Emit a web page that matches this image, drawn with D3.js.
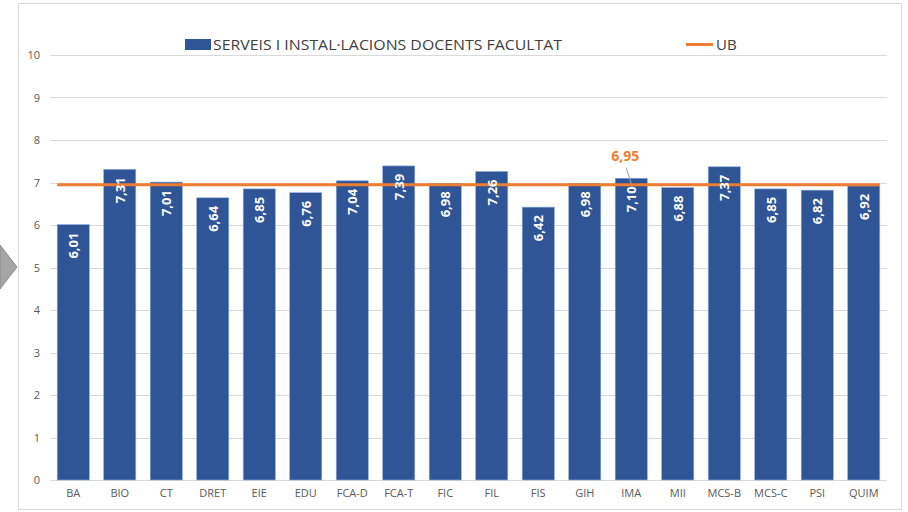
<!DOCTYPE html>
<html>
<head>
<meta charset="utf-8">
<script src="https://cdn.jsdelivr.net/npm/d3@7"></script>
<style>
  body { margin: 0; background: #fff; }
  text { font-family: "Open Sans", "Liberation Sans", sans-serif; }
</style>
</head>
<body>
<svg id="chart" width="908" height="512"></svg>
<script>
const categories = ["BA", "BIO", "CT", "DRET", "EIE", "EDU", "FCA-D", "FCA-T", "FIC", "FIL",
  "FIS", "GIH", "IMA", "MII", "MCS-B", "MCS-C", "PSI", "QUIM"]
const facultat = [6.01, 7.31, 7.01, 6.64, 6.85, 6.76, 7.04, 7.39, 6.98, 7.26,
  6.42, 6.98, 7.10, 6.88, 7.37, 6.85, 6.82, 6.92]
const ubValue = 6.95
const yTicks = [0, 1, 2, 3, 4, 5, 6, 7, 8, 9, 10]
const seriesNames = ["SERVEIS I INSTAL·LACIONS DOCENTS FACULTAT", "UB"]

const fmt = (v) => d3.format(".2f")(v).replace(".", ",")

const svg = d3.select("#chart")
const plot = { left: 50, right: 887, top: 55, bottom: 480 }

// outer frame
svg.append("rect")
  .attr("x", 18.5).attr("y", 3.5)
  .attr("width", 883).attr("height", 506)
  .attr("fill", "#fff").attr("stroke", "#D9D9D9")

// grey arrow on the left edge
svg.append("polygon")
  .attr("points", "0,245 17,267 0,289")
  .attr("fill", "#A5A5A5").attr("stroke", "#8C8C8C")

const x = d3.scaleBand().domain(categories).range([plot.left, plot.right]).paddingInner(0.31).paddingOuter(0.155)
const y = d3.scaleLinear().domain([0, 10]).range([plot.bottom, plot.top])

// gridlines
svg.append("g")
  .selectAll("line")
  .data(yTicks)
  .join("line")
  .attr("x1", plot.left).attr("x2", plot.right)
  .attr("y1", (d) => Math.round(y(d)) + 0.5).attr("y2", (d) => Math.round(y(d)) + 0.5)
  .attr("stroke", "#D9D9D9").attr("stroke-width", 1)

// y axis labels
const yAxis = svg.append("g")
  .attr("transform", `translate(${plot.left - 10},0)`)
  .call(d3.axisLeft(y).tickValues(yTicks).tickSize(0).tickPadding(0))
yAxis.select(".domain").remove()
yAxis.selectAll("text")
  .attr("fill", "#595959").style("font-size", "11px")

// x axis labels
const xAxis = svg.append("g")
  .attr("transform", `translate(0,${plot.bottom})`)
  .call(d3.axisBottom(x).tickSize(0).tickPadding(9))
xAxis.select(".domain").remove()
xAxis.selectAll("text")
  .attr("fill", "#595959").style("font-size", "11px")

// bars
svg.append("g")
  .selectAll("rect")
  .data(facultat)
  .join("rect")
  .attr("x", (d, i) => x(categories[i]))
  .attr("y", (d) => y(d))
  .attr("width", x.bandwidth())
  .attr("height", (d) => y(0) - y(d))
  .attr("fill", "#2F5597")
  .attr("stroke", "#8FAADC").attr("stroke-width", 0.6)

// UB line (under the bar labels)
const xFirst = x(categories[0])
const xLast = x(categories[categories.length - 1]) + x.bandwidth()
svg.append("line")
  .attr("x1", xFirst).attr("x2", xLast)
  .attr("y1", y(ubValue)).attr("y2", y(ubValue))
  .attr("stroke", "#ED7D31").attr("stroke-width", 3)

// bar value labels (rotated, inside end)
svg.append("g")
  .selectAll("text")
  .data(facultat)
  .join("text")
  .attr("transform", (d, i) => `translate(${x(categories[i]) + x.bandwidth() / 2 + 5},${y(d) + 8}) rotate(-90)`)
  .attr("text-anchor", "end")
  .attr("fill", "#fff")
  .style("font-size", "13px").style("font-weight", "bold")
  .text((d) => fmt(d))

// UB label with leader line
const labelCat = "IMA"
const lx = x(labelCat) + x.bandwidth() / 2
svg.append("line")
  .attr("x1", lx - 5).attr("y1", y(ubValue) - 17)
  .attr("x2", lx).attr("y2", y(ubValue) - 1)
  .attr("stroke", "#A6A6A6").attr("stroke-width", 1)
svg.append("text")
  .attr("x", lx - 6).attr("y", y(ubValue) - 24)
  .attr("text-anchor", "middle")
  .attr("fill", "#ED7D31")
  .style("font-size", "14px").style("font-weight", "bold")
  .text(fmt(ubValue))

// legend
const legend = svg.append("g")
legend.append("rect")
  .attr("x", 185).attr("y", 39).attr("width", 26).attr("height", 11)
  .attr("fill", "#2F5597")
legend.append("text")
  .attr("x", 213).attr("y", 50)
  .attr("fill", "#404040").style("font-size", "15px")
  .attr("textLength", 349).attr("lengthAdjust", "spacingAndGlyphs")
  .text(seriesNames[0])
legend.append("line")
  .attr("x1", 686).attr("x2", 713).attr("y1", 44.5).attr("y2", 44.5)
  .attr("stroke", "#ED7D31").attr("stroke-width", 3)
legend.append("text")
  .attr("x", 716).attr("y", 50)
  .attr("fill", "#404040").style("font-size", "15px")
  .text(seriesNames[1])
</script>
</body>
</html>
